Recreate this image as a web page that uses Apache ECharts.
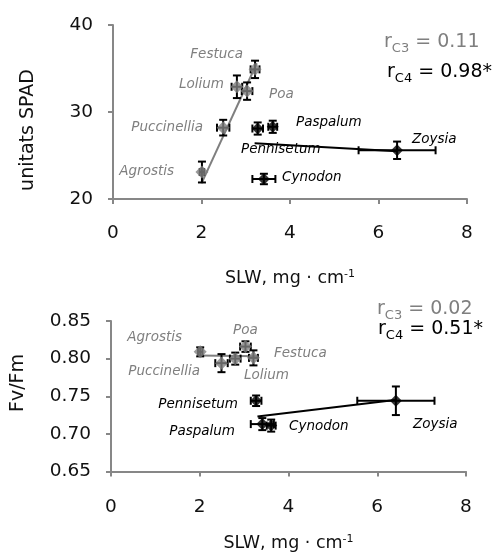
<!DOCTYPE html>
<html>
<head>
<meta charset="utf-8">
<script src="https://cdn.jsdelivr.net/npm/echarts@6/dist/echarts.min.js"></script>
<style>
    html, body { margin: 0; padding: 0; background: #fff; }
    #chart { width: 496px; height: 553px; }
</style>
</head>
<body>
<div id="chart"></div>
<script>
    // species: first five are C3 (grey), the rest C4 (black)
    var species = ['Agrostis', 'Puccinellia', 'Lolium', 'Poa', 'Festuca', 'Pennisetum', 'Cynodon', 'Paspalum', 'Zoysia'];
    var nC3 = 5;
    var slw = [2.01, 2.49, 2.80, 3.03, 3.21, 3.27, 3.41, 3.61, 6.42];
    var slwErr = [0.05, 0.14, 0.12, 0.12, 0.10, 0.12, 0.26, 0.10, 0.87];
    var spad = [23.1, 28.2, 32.9, 32.4, 34.9, 28.1, 22.3, 28.3, 25.6];
    var spadErr = [1.2, 0.9, 1.3, 1.0, 1.0, 0.7, 0.6, 0.7, 1.0];
    var fvfm = [0.809, 0.794, 0.800, 0.816, 0.801, 0.744, 0.713, 0.711, 0.744];
    var fvfmErr = [0.006, 0.012, 0.008, 0.007, 0.010, 0.007, 0.008, 0.008, 0.019];

    // regression lines (end points)
    var spadFitC3 = [[2.0, 21.8], [3.25, 35.6]];
    var spadFitC4 = [[3.2, 26.4], [6.42, 25.5]];
    var fvfmFitC3 = [[2.0, 0.804], [3.3, 0.803]];
    var fvfmFitC4 = [[3.3, 0.723], [6.4, 0.745]];

    var xTicks = [0, 2, 4, 6, 8];
    var rSpad = ['0.11', '0.98*'];
    var rFvfm = ['0.02', '0.51*'];

    var GREY = '#7f7f7f';
    var FONT = 'DejaVu Sans';

    var chart = echarts.init(document.getElementById('chart'));

    function pts(ys, from, to) {
        var out = [];
        for (var i = from; i < to; i++) out.push([slw[i], ys[i]]);
        return out;
    }
    function errData(ys, yErr) {
        return ys.map(function (y, i) { return [slw[i], y, slwErr[i], yErr[i]]; });
    }

    function errorBars(api) {
        var x = api.value(0), y = api.value(1), ex = api.value(2), ey = api.value(3);
        var l = api.coord([x - ex, y]), r = api.coord([x + ex, y]);
        var b = api.coord([x, y - ey]), t = api.coord([x, y + ey]);
        var cap = 4;
        var st = {stroke: '#000', lineWidth: 2};
        return {
            type: 'group',
            children: [
                {type: 'line', shape: {x1: l[0], y1: l[1], x2: r[0], y2: r[1]}, style: st},
                {type: 'line', shape: {x1: l[0], y1: l[1] - cap, x2: l[0], y2: l[1] + cap}, style: st},
                {type: 'line', shape: {x1: r[0], y1: r[1] - cap, x2: r[0], y2: r[1] + cap}, style: st},
                {type: 'line', shape: {x1: b[0], y1: b[1], x2: t[0], y2: t[1]}, style: st},
                {type: 'line', shape: {x1: b[0] - cap, y1: b[1], x2: b[0] + cap, y2: b[1]}, style: st},
                {type: 'line', shape: {x1: t[0] - cap, y1: t[1], x2: t[0] + cap, y2: t[1]}, style: st}
            ]
        };
    }

    function xAxis(idx, gap, margin) {
        return {
            gridIndex: idx, type: 'value', min: 0, max: 8, interval: 2,
            name: 'SLW, mg · cm{sup|-1}', nameLocation: 'middle', nameGap: gap,
            nameTextStyle: {
                fontFamily: FONT, fontSize: 17.5, color: '#111',
                rich: {sup: {fontFamily: FONT, fontSize: 11, verticalAlign: 'top', padding: [0, 0, 8, 0], color: '#111'}}
            },
            axisLine: {onZero: false, lineStyle: {color: '#878787', width: 2}},
            axisTick: {length: 5, lineStyle: {color: '#878787', width: 2}},
            axisLabel: {fontFamily: FONT, fontSize: 18.5, color: '#111', margin: margin,
                formatter: function (v) { return xTicks.indexOf(v) >= 0 ? String(v) : ''; }},
            splitLine: {show: false}
        };
    }

    function yAxis(idx, min, max, interval, digits) {
        return {
            gridIndex: idx, type: 'value', min: min, max: max, interval: interval,
            axisLine: {show: true, lineStyle: {color: '#878787', width: 2}},
            axisTick: {show: true, length: 5, lineStyle: {color: '#878787', width: 2}},
            axisLabel: {fontFamily: FONT, fontSize: 18.5, color: '#111', margin: 20,
                formatter: function (v) { return v.toFixed(digits); }},
            splitLine: {show: false}
        };
    }

    function fitLine(data, color, xi, yi) {
        return {type: 'line', xAxisIndex: xi, yAxisIndex: yi, data: data, symbol: 'none',
            lineStyle: {color: color, width: 2}, z: 2, silent: true};
    }
    function dots(data, color, size, xi, yi) {
        return {type: 'scatter', xAxisIndex: xi, yAxisIndex: yi, data: data, symbol: 'diamond',
            symbolSize: size, itemStyle: {color: color}, z: 4, silent: true};
    }

    function label(text, x, y, align, color) {
        return {type: 'text', left: align === 'right' ? null : x, right: align === 'right' ? 496 - x : null,
            top: y - 9,
            style: {text: text, fontFamily: FONT, fontStyle: 'italic', fontSize: 13.5, fill: color}};
    }
    function rLabel(grp, val, x, y, color) {
        return {type: 'text', left: x, top: y - 13,
            style: {
                text: '{r|r}{s|' + grp + '}{r| = ' + val + '}',
                rich: {
                    r: {fontFamily: FONT, fontSize: 19, fill: color, color: color, lineHeight: 26, verticalAlign: 'middle'},
                    s: {fontFamily: FONT, fontSize: 13, fill: color, color: color, lineHeight: 26, verticalAlign: 'bottom'}
                }
            }};
    }
    function yName(text, cx, cy) {
        return {type: 'text', x: cx, y: cy, rotation: Math.PI / 2,
            style: {text: text, fontFamily: FONT, fontSize: 19, fill: '#111', align: 'center', verticalAlign: 'middle'}};
    }

    chart.setOption({
        animation: false,
        grid: [
            {left: 113, top: 25, width: 354, height: 174},
            {left: 111, top: 321, width: 355, height: 153}
        ],
        xAxis: [xAxis(0, 70, 25), xAxis(1, 62, 26)],
        yAxis: [yAxis(0, 20, 40, 10, 0), yAxis(1, 0.65, 0.85, 0.05, 2)],
        series: [
            fitLine(spadFitC3, GREY, 0, 0),
            fitLine(spadFitC4, '#000', 0, 0),
            {type: 'custom', xAxisIndex: 0, yAxisIndex: 0, data: errData(spad, spadErr),
                renderItem: function (p, api) { return errorBars(api); }, z: 3, silent: true},
            dots(pts(spad, 0, nC3), GREY, 13, 0, 0),
            dots(pts(spad, nC3, species.length), '#000', 12, 0, 0),

            fitLine(fvfmFitC3, GREY, 1, 1),
            fitLine(fvfmFitC4, '#000', 1, 1),
            {type: 'custom', xAxisIndex: 1, yAxisIndex: 1, data: errData(fvfm, fvfmErr),
                renderItem: function (p, api) { return errorBars(api); }, z: 3, silent: true},
            dots(pts(fvfm, 0, nC3), GREY, 13, 1, 1),
            dots(pts(fvfm, nC3, species.length), '#000', 12, 1, 1)
        ],
        graphic: [
            yName('unitats SPAD', 28, 130),
            yName('Fv/Fm', 18, 383),

            // top panel species labels
            label(species[4], 243, 56, 'right', GREY),
            label(species[2], 224, 86, 'right', GREY),
            label(species[3], 269, 96, 'left', GREY),
            label(species[1], 203, 129, 'right', GREY),
            label(species[0], 174, 173, 'right', GREY),
            label(species[7], 296, 124, 'left', '#000'),
            label(species[5], 241, 151, 'left', '#000'),
            label(species[8], 412, 141, 'left', '#000'),
            label(species[6], 282, 179, 'left', '#000'),
            rLabel('C3', rSpad[0], 384, 46, GREY),
            rLabel('C4', rSpad[1], 387, 76, '#000'),

            // bottom panel species labels
            label(species[0], 182, 339, 'right', GREY),
            label(species[3], 233, 332, 'left', GREY),
            label(species[4], 274, 355, 'left', GREY),
            label(species[1], 200, 373, 'right', GREY),
            label(species[2], 244, 377, 'left', GREY),
            label(species[5], 238, 406, 'right', '#000'),
            label(species[7], 235, 433, 'right', '#000'),
            label(species[6], 289, 428, 'left', '#000'),
            label(species[8], 413, 426, 'left', '#000'),
            rLabel('C3', rFvfm[0], 377, 313, GREY),
            rLabel('C4', rFvfm[1], 378, 333, '#000')
        ]
    });
</script>
</body>
</html>
